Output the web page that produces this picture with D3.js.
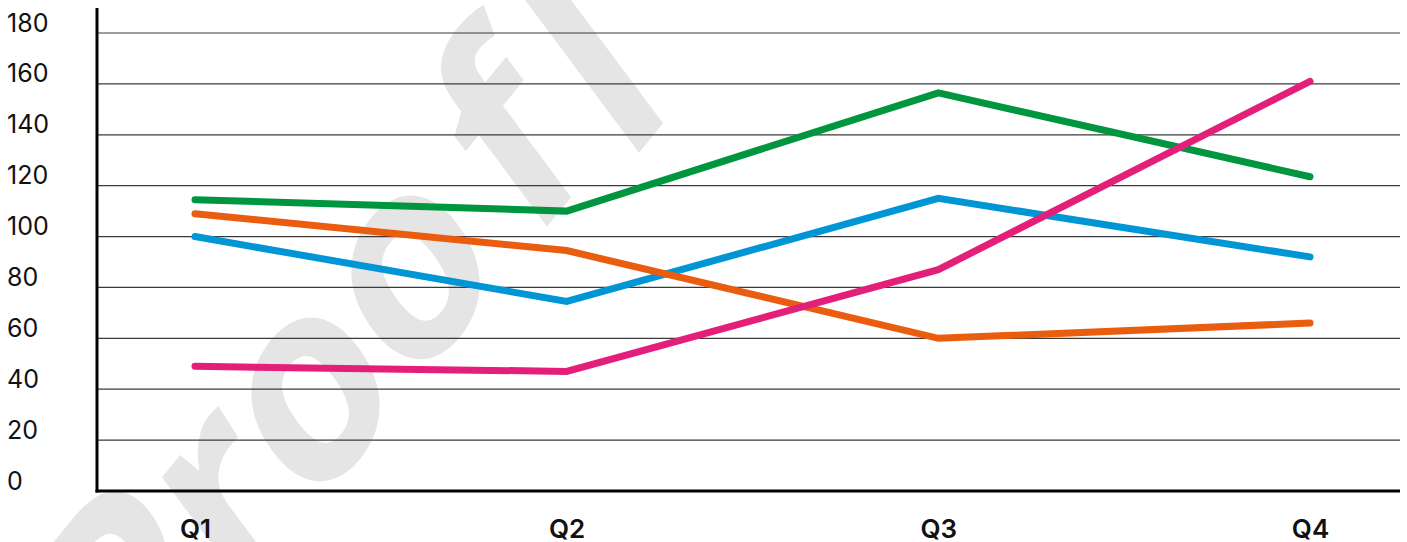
<!DOCTYPE html>
<html>
<head>
<meta charset="utf-8">
<script src="https://cdn.jsdelivr.net/npm/d3@7/dist/d3.min.js"></script>
<style>
  html, body { margin: 0; padding: 0; background: #fff; }
  svg { display: block; }
</style>
</head>
<body>
<svg id="chart" width="1407" height="542"></svg>
<script>
// ---- data ----
const categories = ["Q1", "Q2", "Q3", "Q4"];
const yTicks = [0, 20, 40, 60, 80, 100, 120, 140, 160, 180];
const blueValues   = [100, 74.5, 115, 92];
const greenValues  = [114.5, 110, 156.5, 123.5];
const orangeValues = [109, 94.5, 60, 66];
const pinkValues   = [49, 47, 87, 161];
const seriesNames  = ["blue", "green", "orange", "pink"];
const watermarkHead = "Proo";
const watermarkMid = "f";
const watermarkTail = "l";

// ---- styles ----
const colors = { blue: "#0096d6", green: "#00963f", orange: "#ea5c0e", pink: "#e31f7a" };
const seriesData = { blue: blueValues, green: greenValues, orange: orangeValues, pink: pinkValues };

const svg = d3.select("#chart");
const x = d3.scalePoint().domain(categories).range([195, 1310]);
const y = d3.scaleLinear().domain([0, 180]).range([491, 33]);
const plotLeft = 97, plotRight = 1400;

// ---- watermark (decorative) ----
const fs = 255;
const wmStyle = sel => sel
  .attr("font-family", "'Open Sans', sans-serif")
  .attr("font-weight", 700)
  .attr("font-size", fs)
  .attr("fill", "#e5e5e5");
const wmG = svg.append("g");
const wm = wmG.append("text").attr("x", 0).attr("y", 0).call(wmStyle);
wm.append("tspan").text(watermarkHead);
wm.append("tspan").attr("dx", 35).text(watermarkMid);
const ext = wm.node().getExtentOfChar(3);
const cx = ext.x + ext.width / 2;
wmG.attr("transform", `translate(416,278) rotate(-50.7) skewX(-14) translate(${-cx},${0.27 * fs})`);
svg.append("text")
  .attr("text-anchor", "middle")
  .attr("transform", "translate(651,138) rotate(-50.7) skewX(-14)")
  .call(wmStyle)
  .text(watermarkTail);

// ---- gridlines ----
svg.append("g").selectAll("line")
  .data(yTicks.filter(d => d > 0))
  .join("line")
  .attr("x1", plotLeft).attr("x2", plotRight)
  .attr("y1", d => y(d)).attr("y2", d => y(d))
  .attr("stroke", "#3a3a3a")
  .attr("stroke-width", 1.2);

// ---- y tick labels ----
const yAxis = svg.append("g")
  .attr("transform", "translate(7,0)")
  .call(d3.axisLeft(y).tickValues(yTicks).tickSize(0).tickPadding(0));
yAxis.select(".domain").remove();
yAxis.selectAll("text")
  .attr("x", 0)
  .attr("dy", "-0.08em")
  .attr("text-anchor", "start")
  .attr("font-family", "Inter, sans-serif")
  .attr("font-size", 25)
  .attr("fill", "#111");

// ---- x tick labels ----
const xAxis = svg.append("g")
  .attr("transform", `translate(0,${y(0)})`)
  .call(d3.axisBottom(x).tickSize(0).tickPadding(0));
xAxis.select(".domain").remove();
xAxis.selectAll("text")
  .attr("y", 47)
  .attr("dy", 0)
  .attr("font-family", "Inter, sans-serif")
  .attr("font-weight", 600)
  .attr("font-size", 26)
  .attr("fill", "#111");

// ---- lines ----
const line = d3.line().x((d, i) => x(categories[i])).y(d => y(d));
svg.append("g").selectAll("path")
  .data(seriesNames)
  .join("path")
  .attr("d", s => line(seriesData[s]))
  .attr("fill", "none")
  .attr("stroke", s => colors[s])
  .attr("stroke-width", 7)
  .attr("stroke-linecap", "round")
  .attr("stroke-linejoin", "miter");

// ---- axes lines ----
svg.append("line")
  .attr("x1", plotLeft).attr("x2", plotLeft)
  .attr("y1", 8).attr("y2", y(0) + 1.5)
  .attr("stroke", "#000").attr("stroke-width", 3);
svg.append("line")
  .attr("x1", plotLeft - 1.5).attr("x2", plotRight)
  .attr("y1", y(0)).attr("y2", y(0))
  .attr("stroke", "#000").attr("stroke-width", 3);
</script>
</body>
</html>
